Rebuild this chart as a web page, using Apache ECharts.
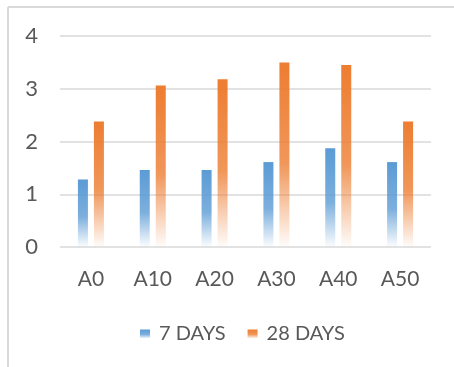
<!DOCTYPE html>
<html>
<head>
<meta charset="utf-8">
<script src="https://cdn.jsdelivr.net/npm/echarts@6/dist/echarts.min.js"></script>
<style>
  html, body { margin: 0; padding: 0; background: #ffffff; }
  #chart { width: 454px; height: 367px; }
</style>
</head>
<body>
<div id="chart"></div>
<script>
// Compressive strength by mix, at 7 and 28 days
const categories = ['A0', 'A10', 'A20', 'A30', 'A40', 'A50'];
const days7 = [1.28, 1.46, 1.46, 1.61, 1.87, 1.61];
const days28 = [2.38, 3.06, 3.18, 3.50, 3.45, 2.38];
const yTicks = [0, 1, 2, 3, 4];

const FONT = 'Lato, "Open Sans", sans-serif';
const TEXT = '#595959';

function fade(r, g, b) {
  return new echarts.graphic.LinearGradient(0, 0, 0, 1, [
    { offset: 0, color: `rgba(${r},${g},${b},1)` },
    { offset: 0.55, color: `rgba(${r},${g},${b},0.8)` },
    { offset: 1, color: `rgba(${r},${g},${b},0.02)` }
  ]);
}

const chart = echarts.init(document.getElementById('chart'), null, { renderer: 'canvas' });

chart.setOption({
  animation: false,
  backgroundColor: '#ffffff',
  graphic: [
    { type: 'line', shape: { x1: 8, y1: 7, x2: 454, y2: 7 }, style: { stroke: '#d9d9d9', lineWidth: 2 } },
    { type: 'line', shape: { x1: 8, y1: 7, x2: 8, y2: 367 }, style: { stroke: '#d9d9d9', lineWidth: 2 } }
  ],
  grid: { left: 60, right: 23, top: 36, bottom: 120 },
  legend: {
    left: 135,
    top: 319,
    itemWidth: 10,
    itemHeight: 9,
    itemGap: 22,
    icon: 'rect',
    textStyle: { color: TEXT, fontSize: 20, fontFamily: FONT, padding: [0, 0, 0, 4] },
    data: ['7 DAYS', '28 DAYS']
  },
  xAxis: {
    type: 'category',
    data: categories,
    axisLine: { show: false },
    axisTick: { show: false },
    axisLabel: { color: TEXT, fontSize: 21, fontFamily: FONT, margin: 22 }
  },
  yAxis: {
    type: 'value',
    min: yTicks[0],
    max: yTicks[yTicks.length - 1],
    interval: 1,
    axisLine: { show: false },
    axisTick: { show: false },
    axisLabel: { color: TEXT, fontSize: 22, fontFamily: FONT, margin: 22 },
    splitLine: { lineStyle: { color: '#d9d9d9', width: 1.5 } }
  },
  series: [
    {
      name: '7 DAYS',
      type: 'bar',
      data: days7,
      barWidth: 10,
      barGap: '60%',
      itemStyle: { color: fade(91, 155, 213) }
    },
    {
      name: '28 DAYS',
      type: 'bar',
      data: days28,
      barWidth: 10,
      barGap: '60%',
      itemStyle: { color: fade(237, 125, 49) }
    }
  ]
});
</script>
</body>
</html>
